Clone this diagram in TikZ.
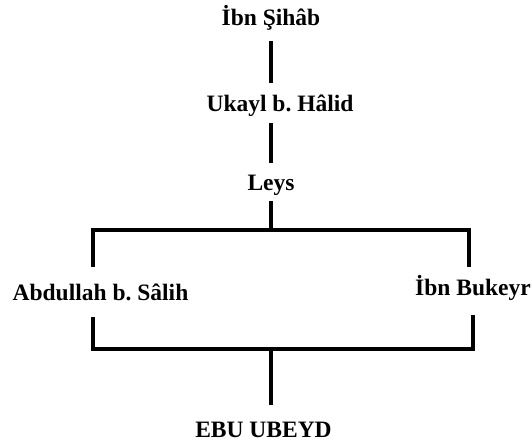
\documentclass[tikz,border=0pt]{standalone}
\usepackage{fontspec}
\setmainfont{Liberation Serif}
\frenchspacing
\usetikzlibrary{positioning,calc}
\tikzset{person/.style={font=\fontsize{23.5}{28}\selectfont\bfseries, inner sep=0pt, text height=17pt, text depth=5pt, anchor=base}}
\tikzset{link/.style={line width=3.5pt, line join=miter}}

\begin{document}
\begin{tikzpicture}[x=1pt, y=-1pt]
\useasboundingbox (0,0) rectangle (532,447);

% Nodi
\node [person] (IbnSihab) at (271,25) {İbn Şihâb};
\node [person] (UkaylHalid) at (280,111) {Ukayl b. Hâlid};
\node [person] (Leys) at (271,190) {Leys};
\node [person] (AbdullahSalih) at (100.5,300) {Abdullah b. Sâlih};
\node [person] (IbnBukeyr) at (473,295) {İbn Bukeyr};
\node [person] (EbuUbeyd) at (263.5,437) {EBU UBEYD};

\coordinate (TopMid) at (271,230);
\coordinate (TopLeft) at (93,230);
\coordinate (TopRight) at (469,230);
\coordinate (BotLeft) at (93,349);
\coordinate (BotRight) at (473,349);
\coordinate (BotMid) at (271,349);

%Collegamenti
\draw [link, shorten <=11pt, shorten >=11pt] (IbnSihab.south -| TopMid) -- (UkaylHalid.north -| TopMid);
\draw [link, shorten <=7pt, shorten >=10pt] (UkaylHalid.south -| TopMid) -- (Leys.north);
\draw [link, shorten <=6pt] (Leys.south) -- (TopMid);
\draw [link, shorten <=16pt, shorten >=11pt] (TopLeft |- AbdullahSalih.north) -- (TopLeft) -- (TopRight) -- (TopRight |- IbnBukeyr.north);
\draw [link, shorten <=12pt, shorten >=15pt] (BotLeft |- AbdullahSalih.south) -- (BotLeft) -- (BotRight) -- (BotRight |- IbnBukeyr.south);
\draw [link, shorten >=15pt] (BotMid) -- (EbuUbeyd.north -| BotMid);

\end{tikzpicture}
\end{document}
